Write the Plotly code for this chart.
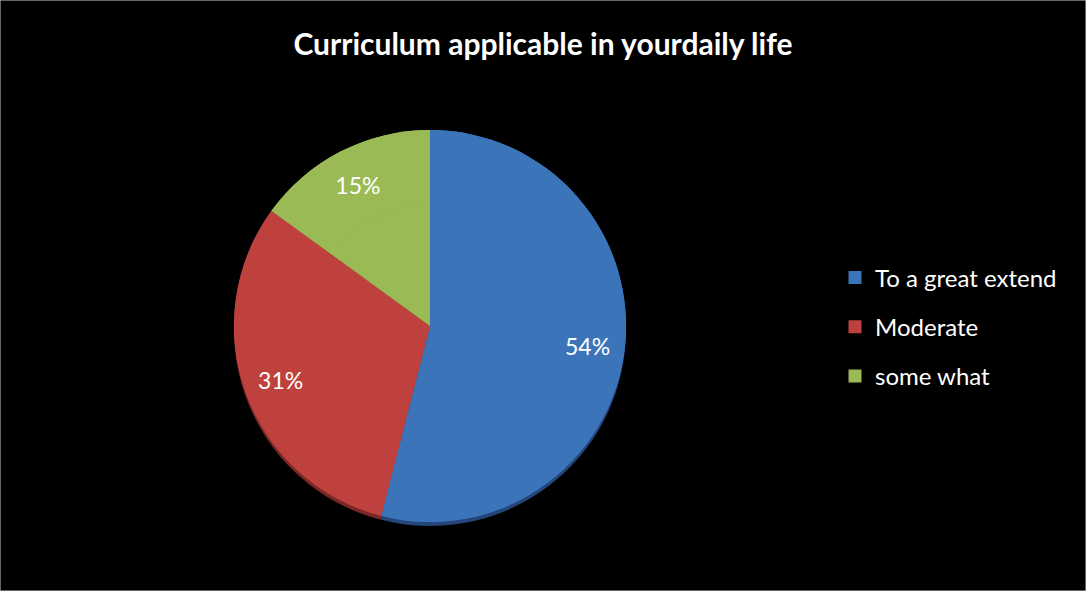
import plotly.graph_objects as go

title_text = "Curriculum applicable in yourdaily life"
categories = ["To a great extend", "Moderate", "some what"]
values = [54, 31, 15]
colors = ["#3C74BA", "#BE413E", "#99BA55"]
shadow_colors = ["#24467A", "#7A2826", "#5E7832"]

W, H = 1086, 591
cx, cy, r = 430, 326, 196


def dom(cx, cy, r):
    return dict(x=[(cx - r) / W, (cx + r) / W], y=[1 - (cy + r) / H, 1 - (cy - r) / H])


fig = go.Figure()
# rim / shadow below the pie
fig.add_trace(go.Pie(
    labels=categories, values=values, sort=False, direction="clockwise", rotation=0,
    marker=dict(colors=shadow_colors, line=dict(width=0)),
    textinfo="none", domain=dom(cx, cy + 4, r), showlegend=False, hoverinfo="skip",
))
# main pie
fig.add_trace(go.Pie(
    labels=categories, values=values, sort=False, direction="clockwise", rotation=0,
    marker=dict(colors=colors, line=dict(width=0)),
    textinfo="none", domain=dom(cx, cy, r), showlegend=False,
    hoverinfo="label+percent",
))
# ring overlay carrying the percentage labels (places them near the rim)
fig.add_trace(go.Pie(
    labels=categories, values=values, sort=False, direction="clockwise", rotation=0,
    hole=0.62,
    marker=dict(colors=colors, line=dict(width=0)),
    texttemplate="%{percent:.0%}",
    textposition="inside",
    insidetextorientation="horizontal",
    textfont=dict(family="Lato", size=23, color="white"),
    domain=dom(cx, cy, r), showlegend=False,
    hoverinfo="label+percent",
))
# legend entries
for name, col in zip(categories, colors):
    fig.add_trace(go.Scatter(
        x=[None], y=[None], mode="markers", name=name, legendgroup=name,
        marker=dict(symbol="square", size=13, color=col),
    ))

fig.update_layout(
    width=W, height=H,
    paper_bgcolor="black",
    plot_bgcolor="black",
    margin=dict(l=0, r=0, t=0, b=0),
    xaxis=dict(visible=False),
    yaxis=dict(visible=False),
    title=dict(text="<b>" + title_text + "</b>", x=0.5, xanchor="center",
               y=1 - 44 / H, yanchor="middle", yref="paper",
               font=dict(family="Lato", size=30, color="white")),
    legend=dict(x=835 / W, xanchor="left", y=1 - 327 / H, yanchor="middle",
                font=dict(family="Lato", size=24, color="white"),
                tracegroupgap=15,
                bgcolor="rgba(0,0,0,0)", itemclick=False, itemdoubleclick=False),
    shapes=[dict(type="rect", xref="paper", yref="paper", x0=0, y0=0, x1=1, y1=1,
                 line=dict(color="#cccccc", width=1))],
)

fig.write_html("out.html", config={"displayModeBar": False},
               post_script="document.body.style.margin='0';")
